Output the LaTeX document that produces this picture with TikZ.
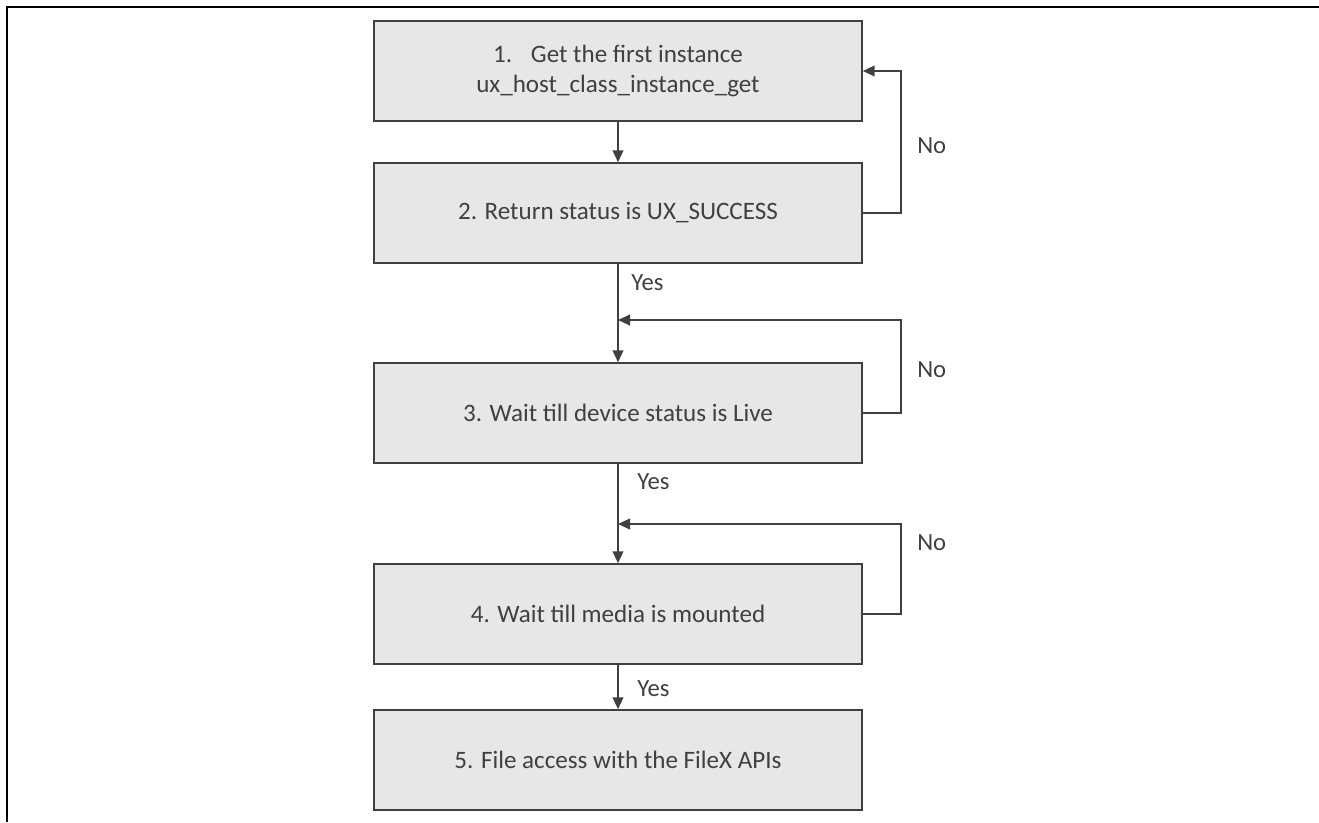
\documentclass[tikz,border=0pt]{standalone}
\usepackage{fontspec}
\setmainfont{Carlito}
\usetikzlibrary{arrows.meta}
\definecolor{dunkel}{HTML}{404040}
\definecolor{kastenfarbe}{HTML}{E7E7E7}

\begin{document}
\begin{tikzpicture}[x=0.75pt,y=-0.75pt,
    schritt/.style={draw=dunkel,fill=kastenfarbe,line width=1.1pt,minimum width=366pt,
      minimum height=75pt,inner sep=0pt,align=center,text=dunkel,
      font=\fontsize{18.8}{22.5}\selectfont},
    pfeil/.style={draw=dunkel,line width=1.5pt,-{Triangle[length=9pt,width=8pt]}},
    marke/.style={text=dunkel,inner sep=0pt,anchor=west,font=\fontsize{18.5}{22}\selectfont}]
            % Rahmen
            \useasboundingbox (0,0) rectangle (1319,822);
            \draw[line width=1.3pt] (1319,7) -- (7,7) -- (7,822);
            % Kaesten
            \foreach \n/\y/\t in {1/71/{1.\hspace{0.75em}Get the first instance\\ux\_host\_class\_instance\_get},
                                  2/213/{2. Return status is UX\_SUCCESS},
                                  3/413/{3. Wait till device status is Live},
                                  4/614/{4. Wait till media is mounted},
                                  5/760/{5. File access with the FileX APIs}}
                \node[schritt] (k\n) at (618,\y) {\t};
            % Pfeile nach unten
            \foreach \a/\b in {1/2,2/3,3/4,4/5}
                \draw[pfeil] (k\a) -- (k\b);
            % Rueckfuehrungen:
            \coordinate (z3) at (618,320);
            \coordinate (z4) at (618,524);
            \draw[pfeil] (k2.east) -- ++(38,0) |- (k1.east);
            \draw[pfeil] (k3.east) -- ++(38,0) |- (z3);
            \draw[pfeil] (k4.east) -- ++(38,0) |- (z4);
            % Beschriftung:
            \node[marke] (ja1) at (631,283) {Yes};
            \node[marke] (ja2) at (637,482) {Yes};
            \node[marke] (ja3) at (637,689) {Yes};
            \node[marke] (nein1) at (917,146) {No};
            \node[marke] (nein2) at (917,370) {No};
            \node[marke] (nein3) at (917,543) {No};
        \end{tikzpicture}
\end{document}
